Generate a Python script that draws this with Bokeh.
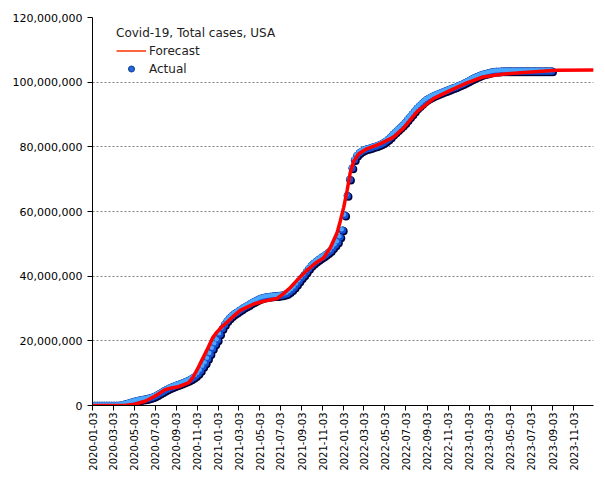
import numpy as np
import pandas as pd
from bokeh.plotting import figure
from bokeh.models import (Range1d, NumeralTickFormatter, FixedTicker, Legend,
                          LegendItem, DatetimeTickFormatter)
from bokeh.embed import file_html
from bokeh.resources import INLINE

# ---------------- data ----------------
title_text = "Covid-19, Total cases, USA"
series_names = ["Forecast", "Actual"]

actual_start = "2020-01-03"   # weekly observations from this date (millions)
actual_2020 = [0, 0, 0, 0, 0,
               0, 0, 0, 0,
               0.0003, 0.002, 0.019, 0.10,
               0.28, 0.50, 0.70, 0.92,
               1.15, 1.35, 1.52, 1.68, 1.82,
               1.97, 2.12, 2.30, 2.55,
               2.85, 3.22, 3.68, 4.13, 4.58,
               4.98, 5.35, 5.67, 5.97,
               6.26, 6.52, 6.80, 7.10,
               7.42, 7.76, 8.15, 8.60, 9.15,
               9.85, 10.75, 11.95, 13.10,
               14.45, 15.90, 17.55, 18.95]
actual_2021 = [20.20, 22.00, 23.70, 25.00, 26.10,
               27.00, 27.70, 28.30, 28.80,
               29.30, 29.80, 30.30, 30.70,
               31.10, 31.60, 32.00, 32.40, 32.80,
               33.10, 33.30, 33.50, 33.60,
               33.70, 33.80, 33.85, 33.90,
               34.00, 34.10, 34.30, 34.60, 35.10,
               35.70, 36.50, 37.40, 38.40,
               39.40, 40.30, 41.30, 42.30,
               43.20, 43.90, 44.50, 45.05, 45.60,
               46.10, 46.60, 47.20, 47.80,
               48.70, 49.60, 50.50, 52.00, 54.20]
actual_2022 = [58.80, 64.90, 69.90, 73.40,
               75.90, 77.30, 78.10, 78.60,
               79.00, 79.30, 79.50, 79.70,
               80.00, 80.20, 80.50, 80.80, 81.20,
               81.70, 82.30, 83.00, 83.80,
               84.50, 85.20, 85.90, 86.60,
               87.40, 88.30, 89.20, 90.10, 91.00,
               91.90, 92.60, 93.30, 94.00,
               94.60, 95.00, 95.40, 95.80, 96.10,
               96.40, 96.70, 97.00, 97.30,
               97.60, 97.90, 98.20, 98.40,
               98.80, 99.10, 99.40, 99.80, 100.20]
actual_2023 = [100.60, 101.00, 101.40, 101.70,
               102.00, 102.30, 102.50, 102.70,
               102.90, 103.10, 103.20, 103.30, 103.30,
               103.35, 103.40, 103.40, 103.40,
               103.40, 103.40, 103.40, 103.40,
               103.40, 103.40, 103.40, 103.40, 103.40,
               103.40, 103.40, 103.40, 103.40,
               103.40, 103.40, 103.40, 103.40,
               103.40]

forecast_dates = ["2020-01-03", "2020-03-15", "2020-04-10", "2020-05-05", "2020-06-04",
                  "2020-07-01", "2020-08-01", "2020-08-20", "2020-09-09", "2020-10-08",
                  "2020-10-22", "2020-11-06", "2020-11-20", "2020-12-05", "2020-12-18",
                  "2020-12-30", "2021-01-15", "2021-01-29", "2021-02-18", "2021-03-08",
                  "2021-04-16", "2021-05-25", "2021-06-23", "2021-07-12", "2021-08-01",
                  "2021-08-20", "2021-09-18", "2021-10-12", "2021-11-05", "2021-11-25",
                  "2021-12-15", "2021-12-24", "2022-01-03", "2022-01-13", "2022-01-22",
                  "2022-02-01", "2022-02-15", "2022-03-11", "2022-04-19", "2022-05-28",
                  "2022-06-26", "2022-08-04", "2022-09-21", "2022-11-08", "2022-12-26",
                  "2023-02-12", "2023-04-02", "2023-05-21", "2023-06-23", "2023-09-14",
                  "2023-12-31"]
forecast_millions = [0, 0, 0.05, 0.4, 1.3,
                     2.8, 4.9, 5.4, 5.8, 7.0,
                     8.8, 11.8, 14.8, 18.0, 21.0,
                     22.7, 24.5, 25.8, 27.8, 29.4,
                     31.4, 32.5, 33.1, 34.6, 36.5,
                     38.7, 41.8, 44.0, 45.6, 48.8,
                     53.5, 57.0, 61.3, 66.5, 72.0,
                     75.5, 77.8, 79.4, 80.9, 83.0,
                     85.8, 90.8, 94.9, 97.4, 99.7,
                     101.6, 102.4, 102.8, 103.1, 103.7,
                     103.8]

x_tick_labels = ["2020-01-03", "2020-03-03", "2020-05-03", "2020-07-03", "2020-09-03", "2020-11-03",
                 "2021-01-03", "2021-03-03", "2021-05-03", "2021-07-03", "2021-09-03", "2021-11-03",
                 "2022-01-03", "2022-03-03", "2022-05-03", "2022-07-03", "2022-09-03", "2022-11-03",
                 "2023-01-03", "2023-03-03", "2023-05-03", "2023-07-03", "2023-09-03", "2023-11-03"]
y_ticks = [0, 20_000_000, 40_000_000, 60_000_000, 80_000_000, 100_000_000, 120_000_000]
x_start, x_end = "2020-01-03", "2023-12-31"

# ---------------- build ----------------
actual_millions = actual_2020 + actual_2021 + actual_2022 + actual_2023
actual_x = pd.date_range(actual_start, periods=len(actual_millions), freq="7D")
actual_y = np.array(actual_millions) * 1e6
fc_x = pd.to_datetime(forecast_dates)
fc_y = np.array(forecast_millions) * 1e6

W, H = 600, 475
BL, BR, BT, BB = 92, 7, 17, 70
frame_w = W - BL - BR
frame_h = H - BT - BB

xs = pd.Timestamp(x_start)
xe = pd.Timestamp(x_end)
p = figure(width=W, height=H, x_axis_type="datetime",
           x_range=Range1d(xs, xe), y_range=Range1d(0, y_ticks[-1]),
           output_backend="svg", toolbar_location=None,
           min_border_left=BL, min_border_right=BR, min_border_top=BT, min_border_bottom=BB)
p.outline_line_color = None
p.background_fill_color = "white"
p.border_fill_color = "white"

# one pixel expressed in data units (for the shaded sphere look of markers)
span_ms = (xe - xs).total_seconds() * 1000.0
dx = pd.Timedelta(milliseconds=span_ms / frame_w)
dy = y_ticks[-1] / frame_h

# legend proxies: drawn first, fully hidden under the visible layers
leg_dot = p.scatter(actual_x, actual_y, size=7, marker="circle",
                    fill_color="#2468dc", line_color="#123a90")
leg_line = p.line(fc_x, fc_y, line_color="#ff3300", line_width=1.5)

dark = p.scatter(actual_x + dx, actual_y - dy, size=8, marker="circle",
                 fill_color="#00003a", line_color=None)
mid = p.scatter(actual_x, actual_y, size=7, marker="circle",
                fill_color="#1450d2", line_color=None)
light = p.scatter(actual_x - dx, actual_y + dy, size=4.5, marker="circle",
                  fill_color="#4aa6ff", line_color=None)

fc = p.line(fc_x, fc_y, line_color="#ff0000", line_width=3.5)

legend = Legend(items=[LegendItem(label=series_names[0], renderers=[leg_line]),
                       LegendItem(label=series_names[1], renderers=[leg_dot])],
                location=(24, frame_h - 59), title=title_text)
legend.title_text_font = "DejaVu Sans"
legend.title_text_font_size = "12px"
legend.title_text_font_style = "normal"
legend.title_text_color = "#222222"
legend.title_standoff = 3
legend.label_text_font = "DejaVu Sans"
legend.label_text_font_size = "12px"
legend.label_text_color = "#222222"
legend.label_standoff = 3
legend.glyph_width = 30
legend.glyph_height = 15
legend.label_height = 15
legend.spacing = 3
legend.padding = 5
legend.margin = 0
legend.border_line_color = None
legend.background_fill_alpha = 0
p.add_layout(legend)

# axes
p.xaxis.ticker = FixedTicker(ticks=[pd.Timestamp(t).value / 1e6 for t in x_tick_labels])
p.xaxis.formatter = DatetimeTickFormatter(days="%Y-%m-%d", months="%Y-%m-%d", years="%Y-%m-%d",
                                          hours="%Y-%m-%d", minutes="%Y-%m-%d")
p.xaxis.major_label_orientation = np.pi / 2
p.yaxis.ticker = FixedTicker(ticks=y_ticks)
p.yaxis.formatter = NumeralTickFormatter(format="0,0")

for ax in (p.xaxis, p.yaxis):
    ax.axis_line_color = "black"
    ax.major_tick_line_color = "black"
    ax.major_tick_out = 5
    ax.major_tick_in = 0
    ax.minor_tick_line_color = None
    ax.major_label_text_font = "DejaVu Sans"
    ax.major_label_text_color = "black"
p.yaxis.major_label_text_font_size = "11px"
p.xaxis.major_label_text_font_size = "10px"
p.yaxis.major_label_standoff = 5
p.xaxis.major_label_standoff = 2

p.xgrid.grid_line_color = None
p.ygrid.grid_line_color = "#808080"
p.ygrid.grid_line_dash = "2 2"
p.ygrid.grid_line_width = 1

open("out.html", "w").write(file_html(p, INLINE))
